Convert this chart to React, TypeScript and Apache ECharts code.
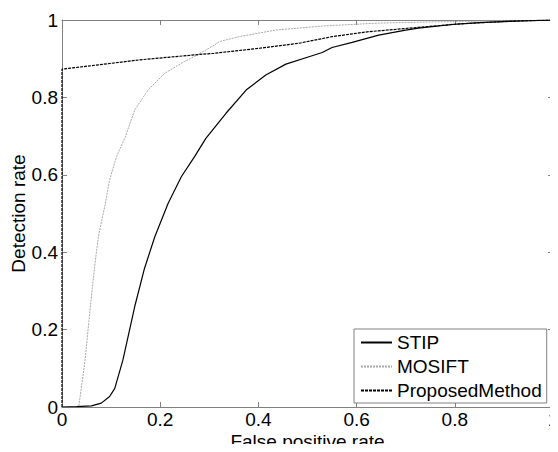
import React, { useEffect, useRef } from "react";
import * as echarts from "echarts";

const seriesNames = ["STIP", "MOSIFT", "ProposedMethod"];

const stipFpr = [0, 0.03, 0.06, 0.08, 0.097, 0.1075, 0.124, 0.148, 0.168, 0.189, 0.216, 0.243, 0.27, 0.293, 0.334, 0.375, 0.415, 0.456, 0.503, 0.53, 0.55, 0.591, 0.645, 0.7, 0.726, 0.8, 0.85, 0.9, 0.95, 1];
const stipTpr = [0, 0.001, 0.003, 0.01, 0.027, 0.048, 0.121, 0.259, 0.358, 0.44, 0.526, 0.595, 0.647, 0.694, 0.759, 0.819, 0.858, 0.886, 0.905, 0.916, 0.929, 0.942, 0.961, 0.974, 0.979, 0.989, 0.993, 0.996, 0.998, 1];

const mosiftFpr = [0, 0.034, 0.047, 0.057, 0.066, 0.074, 0.087, 0.097, 0.111, 0.128, 0.148, 0.175, 0.209, 0.243, 0.28, 0.31, 0.32, 0.361, 0.435, 0.537, 0.645, 0.75, 0.85, 1];
const mosiftTpr = [0, 0, 0.121, 0.25, 0.358, 0.44, 0.518, 0.587, 0.647, 0.695, 0.767, 0.819, 0.862, 0.888, 0.913, 0.935, 0.944, 0.957, 0.974, 0.985, 0.992, 0.995, 0.997, 1];

const proposedFpr = [0, 0, 0.1, 0.158, 0.28, 0.31, 0.402, 0.483, 0.55, 0.625, 0.645, 0.726, 0.8, 0.895, 1];
const proposedTpr = [0, 0.873, 0.888, 0.897, 0.911, 0.914, 0.927, 0.94, 0.957, 0.97, 0.972, 0.981, 0.989, 0.996, 1];

const xTicks = [0, 0.2, 0.4, 0.6, 0.8, 1];
const yTicks = [0, 0.2, 0.4, 0.6, 0.8, 1];

const zip = (xs: number[], ys: number[]) => xs.map((x, i) => [x, ys[i]]);

const FONT = "'Liberation Sans', Arial, sans-serif";
const AXIS_COLOR = "#808080";

export default function App() {
  const ref = useRef<HTMLDivElement>(null);
  useEffect(() => {
    if (!ref.current) return;
    const chart = echarts.init(ref.current, undefined, { renderer: "svg" });
    const fmt = (v: number) => (xTicks.includes(v) || yTicks.includes(v) ? String(v) : "");
    const baseAxis = {
      type: "value" as const,
      min: 0,
      max: 1,
      interval: 0.2,
      splitLine: { show: false },
      axisLine: { show: true, onZero: false, lineStyle: { color: AXIS_COLOR, width: 1 } },
      axisTick: { show: true, inside: true, length: 5, lineStyle: { color: AXIS_COLOR } },
    };
    chart.setOption({
      animation: false,
      backgroundColor: "#ffffff",
      grid: { left: 62, right: 5, top: 20, bottom: 45, containLabel: false, outerBoundsMode: "none" },
      xAxis: [
        {
          ...baseAxis,
          position: "bottom",
          name: "False positive rate",
          nameLocation: "middle",
          nameGap: 25.5,
          nameMoveOverlap: false,
          nameTextStyle: { color: "#000", fontSize: 19, lineHeight: 17, fontFamily: FONT },
          axisLabel: {
            color: "#000", fontSize: 19, lineHeight: 17, fontFamily: FONT, margin: 4, formatter: fmt,
            showMinLabel: true, showMaxLabel: true, hideOverlap: false,
          },
        },
        { ...baseAxis, position: "top", axisLabel: { show: false } },
      ],
      yAxis: [
        {
          ...baseAxis,
          position: "left",
          name: "Detection rate",
          nameLocation: "middle",
          nameGap: 34,
          nameMoveOverlap: false,
          nameTextStyle: { color: "#000", fontSize: 19, fontFamily: FONT },
          axisLabel: {
            color: "#000", fontSize: 19, fontFamily: FONT, margin: 4, formatter: fmt,
            showMinLabel: true, showMaxLabel: true, hideOverlap: false,
          },
        },
        { ...baseAxis, position: "right", axisLabel: { show: false } },
      ],
      legend: {
        orient: "vertical",
        left: 354,
        top: 329,
        padding: [4, 5, 3, 6],
        itemWidth: 31,
        itemHeight: 14,
        itemGap: 5,
        backgroundColor: "#ffffff",
        borderColor: AXIS_COLOR,
        borderWidth: 1,
        borderRadius: 0,
        itemStyle: { opacity: 0 },
        textStyle: { color: "#000", fontSize: 19, fontFamily: FONT },
        data: seriesNames,
      },
      series: [
        {
          name: seriesNames[0],
          type: "line",
          data: zip(stipFpr, stipTpr),
          showSymbol: false,
          symbol: "none",
          lineStyle: { color: "#000000", width: 1.2, type: "solid" },
          itemStyle: { color: "#000000" },
          z: 3,
        },
        {
          name: seriesNames[1],
          type: "line",
          data: zip(mosiftFpr, mosiftTpr),
          showSymbol: false,
          symbol: "none",
          lineStyle: { color: "#a8a8a8", width: 1, type: [2, 1] },
          itemStyle: { color: "#a8a8a8" },
          z: 2,
        },
        {
          name: seriesNames[2],
          type: "line",
          data: zip(proposedFpr, proposedTpr),
          showSymbol: false,
          symbol: "none",
          lineStyle: { color: "#000000", width: 1.2, type: [3, 1] },
          itemStyle: { color: "#000000" },
          z: 4,
        },
      ],
    });
    return () => chart.dispose();
  }, []);
  return <div ref={ref} style={{ width: 558, height: 452, margin: -8 }} />;
}
